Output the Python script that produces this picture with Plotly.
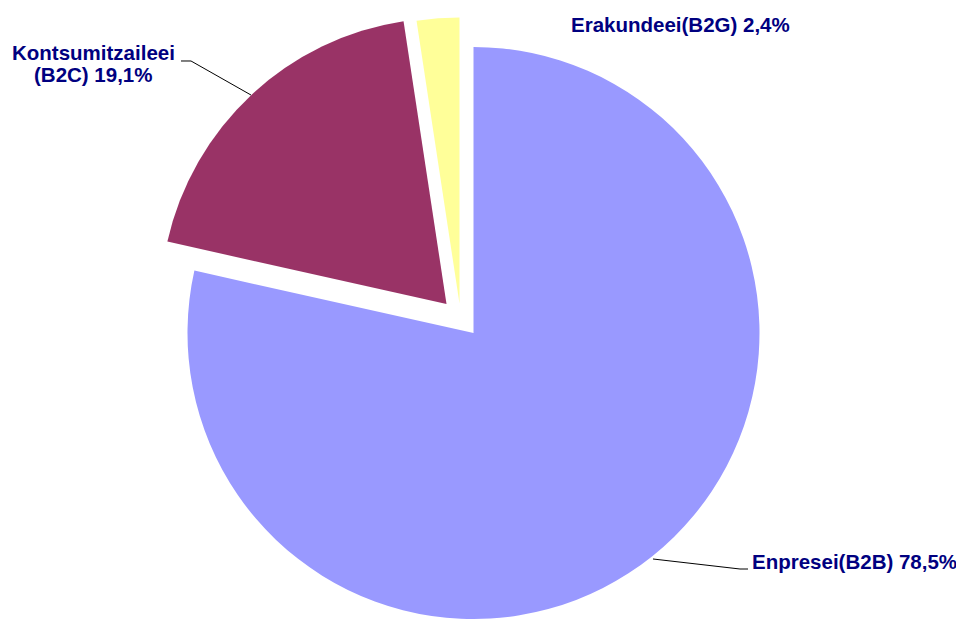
import plotly.graph_objects as go

# ---- data ----
categories = ["Enpresei(B2B)", "Kontsumitzaileei (B2C)", "Erakundeei(B2G)"]
values = [78.5, 19.1, 2.4]
value_labels = ["78,5%", "19,1%", "2,4%"]
colors = ["#9999FF", "#993366", "#FFFF99"]

# ---- layout geometry (pixels of the 964x619 page) ----
PAGE_OFF = 8            # default body margin of the html page
W, H = 964 - PAGE_OFF, 619 - PAGE_OFF
R = 286
centers = [(473.5, 333.0), (446.5, 304.0), (459.5, 303.5)]  # exploded slices


def px(x):
    return (x - PAGE_OFF) / W


def py(y):
    return 1 - (y - PAGE_OFF) / H


def clamp(v):
    return max(0.0, min(1.0, v))


fig = go.Figure()
for i, (cx, cy) in enumerate(centers):
    slice_colors = [c if j == i else "rgba(0,0,0,0)" for j, c in enumerate(colors)]
    fig.add_trace(go.Pie(
        labels=categories,
        values=values,
        sort=False,
        direction="clockwise",
        rotation=0,
        marker=dict(colors=slice_colors, line=dict(width=0)),
        textinfo="none",
        showlegend=False,
        hoverinfo="label+percent",
        domain=dict(x=[clamp(px(cx - R)), clamp(px(cx + R))],
                    y=[clamp(py(cy + R)), clamp(py(cy - R))]),
    ))

font = dict(family="Liberation Sans, Arial, sans-serif", size=20.5, color="#000080")

annotations = [
    dict(text="<b>%s %s</b>" % (categories[0], value_labels[0]), x=px(750), y=py(561),
         xanchor="left", yanchor="middle"),
    dict(text="<b>Kontsumitzaileei</b>", x=px(93.5), y=py(52),
         xanchor="center", yanchor="middle"),
    dict(text="<b>(B2C) %s</b>" % value_labels[1], x=px(93.5), y=py(75),
         xanchor="center", yanchor="middle"),
    dict(text="<b>%s %s</b>" % (categories[2], value_labels[2]), x=px(569), y=py(24),
         xanchor="left", yanchor="middle"),
]
for a in annotations:
    a.update(xref="paper", yref="paper", showarrow=False, font=font)


def path(points):
    s = "M %f %f" % (px(points[0][0]), py(points[0][1]))
    for x, y in points[1:]:
        s += " L %f %f" % (px(x), py(y))
    return s


shapes = [
    dict(type="path", xref="paper", yref="paper",
         path=path([(181, 61), (191, 61), (251, 95)]),
         line=dict(color="black", width=1)),
    dict(type="path", xref="paper", yref="paper",
         path=path([(653, 559), (740, 569), (748, 569)]),
         line=dict(color="black", width=1)),
]

fig.update_layout(
    width=W, height=H,
    margin=dict(l=0, r=0, t=0, b=0),
    paper_bgcolor="white",
    plot_bgcolor="white",
    annotations=annotations,
    shapes=shapes,
)

fig.write_html("out.html")
